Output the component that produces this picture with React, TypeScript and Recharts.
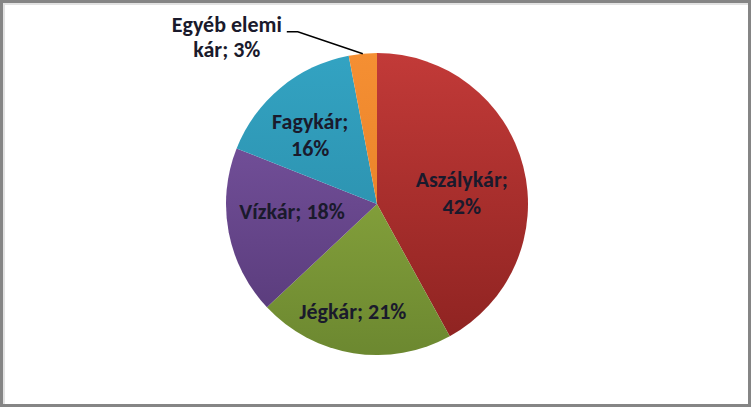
import { PieChart, Pie, Cell } from 'recharts'

const categories = ['Aszálykár', 'Jégkár', 'Vízkár', 'Fagykár', 'Egyéb elemi kár']
const shares = [42, 21, 18, 16, 3]
// [light top, dark bottom] per slice, like the Excel 2007 style
const sliceColors = [
  ['#c23a38', '#8c2220'],
  ['#97b444', '#6c8830'],
  ['#7d58a6', '#553876'],
  ['#33a3c2', '#2886a2'],
  ['#f58f33', '#e07a22'],
]

const W = 751
const H = 407
const CX = 377
const CY = 204
const R = 151
const FONT = 'Calibri, Carlito, "Liberation Sans Narrow", "Open Sans", sans-serif'

// small "best fit" nudges, the way Excel shifted the inside labels
const labelNudge: Record<string, [number, number]> = {
  Aszálykár: [-3, 12],
  Jégkár: [-10, 18],
  Vízkár: [4, -9],
  Fagykár: [-9, 1],
}

const data = categories.map((name, i) => ({ name, value: shares[i] }))

const RAD = Math.PI / 180

// eslint-disable-next-line @typescript-eslint/no-explicit-any
function renderLabel(props: any) {
  const { cx, cy, midAngle, outerRadius, index, name, value } = props
  const textStyle = { fontFamily: FONT, fontSize: 22, fontWeight: 700, fill: '#1a1a2c' }

  // the tiny slice gets an outside label with a leader line
  if (value < 5) {
    const ex = cx + outerRadius * Math.cos(-midAngle * RAD)
    const ey = cy + outerRadius * Math.sin(-midAngle * RAD)
    const elbowX = ex - 65
    const elbowY = ey - 22
    const endX = elbowX - 11
    const tx = endX - 60
    const words = String(name).split(' ')
    const first = words.slice(0, 2).join(' ')
    const rest = words.slice(2).join(' ')
    return (
      <g key={`lbl-${index}`}>
        <polyline
          points={`${ex},${ey} ${elbowX},${elbowY} ${endX},${elbowY}`}
          fill="none"
          stroke="#000"
          strokeWidth={1.5}
        />
        <text x={tx} y={elbowY - 7} textAnchor="middle" dominantBaseline="central" {...textStyle}>
          {first}
        </text>
        <text x={tx} y={elbowY + 18} textAnchor="middle" dominantBaseline="central" {...textStyle}>
          {`${rest}; ${value}%`}
        </text>
      </g>
    )
  }

  const r = outerRadius * 0.6
  const [dx, dy] = labelNudge[name] ?? [0, 0]
  const x = cx + r * Math.cos(-midAngle * RAD) + dx
  const y = cy + r * Math.sin(-midAngle * RAD) + dy
  const oneLine = name === 'Jégkár' || name === 'Vízkár'
  if (oneLine) {
    return (
      <text key={`lbl-${index}`} x={x} y={y} textAnchor="middle" dominantBaseline="central" {...textStyle}>
        {`${name}; ${value}%`}
      </text>
    )
  }
  return (
    <g key={`lbl-${index}`}>
      <text x={x} y={y - 13.5} textAnchor="middle" dominantBaseline="central" {...textStyle}>
        {`${name};`}
      </text>
      <text x={x} y={y + 13.5} textAnchor="middle" dominantBaseline="central" {...textStyle}>
        {`${value}%`}
      </text>
    </g>
  )
}

export default function App() {
  return (
    <div style={{ position: 'fixed', left: 0, top: 0, width: W, height: H, background: '#fff' }}>
      <PieChart width={W} height={H} margin={{ top: 0, right: 0, bottom: 0, left: 0 }}>
        <defs>
          {sliceColors.map(([top, bottom], i) => (
            <linearGradient
              key={i}
              id={`slice-${i}`}
              gradientUnits="userSpaceOnUse"
              x1={0}
              y1={CY - R}
              x2={0}
              y2={CY + R}
            >
              <stop offset="0%" stopColor={top} />
              <stop offset="100%" stopColor={bottom} />
            </linearGradient>
          ))}
        </defs>
        <Pie
          data={data}
          dataKey="value"
          nameKey="name"
          cx={CX}
          cy={CY}
          outerRadius={R}
          startAngle={90}
          endAngle={-270}
          stroke="none"
          label={renderLabel}
          labelLine={false}
          isAnimationActive={false}
        >
          {data.map((d, i) => (
            <Cell key={d.name} fill={`url(#slice-${i})`} />
          ))}
        </Pie>
      </PieChart>
      <div
        style={{
          position: 'absolute',
          inset: 0,
          border: '3px solid #858585',
          boxShadow: 'inset 2px 2px 0 #e2e2e2',
          pointerEvents: 'none',
        }}
      />
    </div>
  )
}
